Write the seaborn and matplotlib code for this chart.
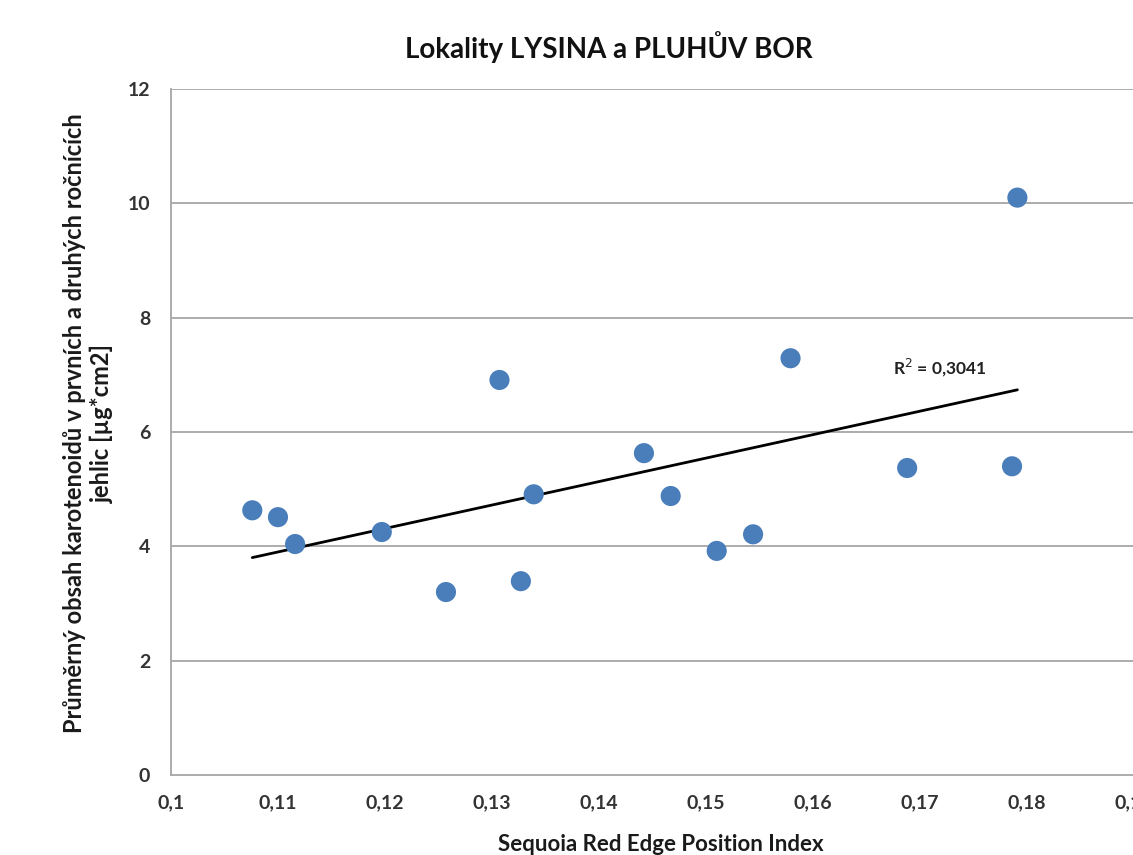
import matplotlib
matplotlib.use("Agg")
import matplotlib.pyplot as plt
import matplotlib.ticker as mticker
import seaborn as sns
import pandas as pd
import numpy as np

# Data
sredpi = [0.1076, 0.1100, 0.1116, 0.1197, 0.1257, 0.1307, 0.1327, 0.1339,
          0.1442, 0.1467, 0.1510, 0.1544, 0.1579, 0.1688, 0.1786, 0.1791]
carotenoids = [4.63, 4.51, 4.04, 4.25, 3.20, 6.91, 3.39, 4.91,
               5.63, 4.88, 3.92, 4.21, 7.29, 5.37, 5.40, 10.10]

title = "Lokality LYSINA a PLUHŮV BOR"
xlabel = "Sequoia Red Edge Position Index"
ylabel = "Průměrný obsah karotenoidů v prvních a druhých ročnících\njehlic [µg*cm2]"
r2_text = "R$^2$ = 0,3041"
x_ticks = [0.10, 0.11, 0.12, 0.13, 0.14, 0.15, 0.16, 0.17, 0.18, 0.19]
y_ticks = [0, 2, 4, 6, 8, 10, 12]

df = pd.DataFrame({"x": sredpi, "y": carotenoids})

sns.set_theme(style="white")
plt.rcParams["font.family"] = ["Lato", "DejaVu Sans"]

fig = plt.figure(figsize=(11.33, 8.55), dpi=100)
ax = fig.add_axes([0.1509, 0.0936, 0.8500, 0.8023])

grid_color = "#a6a6a6"
for yt in y_ticks[1:]:
    ax.axhline(yt, color=grid_color, lw=1.3, zorder=0)

sns.regplot(data=df, x="x", y="y", scatter=False, ci=None, ax=ax,
            line_kws={"color": "black", "lw": 2.0, "zorder": 2})
sns.scatterplot(data=df, x="x", y="y", ax=ax, s=210, color="#4a7ebb",
                edgecolor="none", zorder=3, legend=False)

ax.set_xlim(0.10, 0.19)
ax.set_ylim(0, 12)
ax.set_xticks(x_ticks)
ax.set_yticks(y_ticks)
ax.xaxis.set_major_formatter(mticker.FuncFormatter(
    lambda v, p: f"{v:.2f}".rstrip("0").replace(".", ",")))
ax.yaxis.set_major_formatter(mticker.FuncFormatter(lambda v, p: f"{int(v)}"))

for side in ["top", "right"]:
    ax.spines[side].set_visible(False)
for side in ["left", "bottom"]:
    ax.spines[side].set_color(grid_color)
    ax.spines[side].set_linewidth(1.3)

ax.tick_params(axis="both", which="major", direction="out", length=6,
               width=1.2, color=grid_color, labelsize=14,
               labelcolor="#333333")
ax.tick_params(axis="x", pad=8)
ax.tick_params(axis="y", pad=9)
for lbl in ax.get_xticklabels() + ax.get_yticklabels():
    lbl.set_fontweight("bold")
    lbl.set_clip_on(False)

ax.set_xlabel("")
fig.text(0.583, 0.012, xlabel, fontsize=16, fontweight="bold", color="#1a1a1a",
         ha="center", va="center")
ax.set_ylabel("")
fig.text(0.078, 0.505, ylabel, fontsize=17, fontweight="bold", color="#1a1a1a",
         ha="center", va="center", rotation=90, linespacing=1.25,
         multialignment="center")
fig.text(0.537, 0.945, title, fontsize=20, fontweight="bold", color="#111111",
         ha="center", va="center")

ax.text(0.1675, 7.0, r2_text, fontsize=12.5, fontweight="bold", color="#222222")

fig.savefig("out.png", dpi=100)
